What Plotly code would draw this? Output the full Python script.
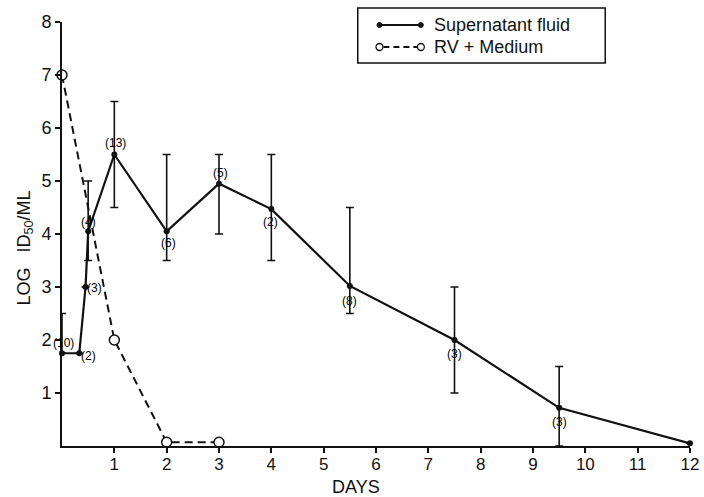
import plotly.graph_objects as go

# ---------------- data ----------------
days_sup = [0, 0.33, 0.45, 0.5, 1, 2, 3, 4, 5.5, 7.5, 9.5, 12]
log_sup = [1.75, 1.75, 3.0, 4.05, 5.5, 4.05, 4.95, 4.47, 3.02, 2.0, 0.72, 0.05]
err_up = [0.75, None, None, 0.95, 1.0, 1.45, 0.55, 1.03, 1.48, 1.0, 0.78, None]
err_down = [0.0, None, None, 0.55, 1.0, 0.55, 0.95, 0.97, 0.52, 1.0, 0.72, None]
n_labels = ["(10)", "(2)", "(3)", "(4)", "(13)", "(6)", "(5)", "(2)", "(8)", "(3)", "(3)", ""]

days_rv = [0, 1, 2, 3]
log_rv = [7, 2, 0.07, 0.07]

x_ticks = list(range(1, 13))
y_ticks = list(range(1, 9))

series_names = ["Supernatant fluid", "RV + Medium"]

# ---------------- style ----------------
FONT = "Liberation Sans"
INK = "#111111"
# pixel offsets (dx, dy) of the n-labels relative to their points
label_offsets = [(1, 10), (9, -3), (9, -1), (0, 9), (1, 12), (2, -12),
                 (1, 11), (-1, -13), (0, -15), (0, -14), (0, -14), (0, 0)]

L, R, T, B = 62, 5, 22, 51
W, H = 704, 497
PW, PH = W - L - R, H - T - B


def px(xp):
    return (xp - L) / PW


def py(yp):
    return (H - B - yp) / PH


fig = go.Figure()

fig.add_trace(go.Scatter(
    x=days_rv, y=log_rv, mode="lines+markers", name=series_names[1],
    line=dict(color=INK, width=2, dash="8px,5px"),
    marker=dict(symbol="circle", size=10, color="white",
                line=dict(color=INK, width=1.5)),
    cliponaxis=False, showlegend=False,
))

fig.add_trace(go.Scatter(
    x=days_sup, y=log_sup, mode="lines+markers", name=series_names[0],
    line=dict(color=INK, width=2.2),
    marker=dict(symbol="circle", size=6, color=INK),
    error_y=dict(type="data", symmetric=False, array=err_up, arrayminus=err_down,
                 color=INK, thickness=1.6, width=4),
    cliponaxis=False, showlegend=False,
))

annotations = []
for xv, yv, t, (dx, dy) in zip(days_sup, log_sup, n_labels, label_offsets):
    if t:
        annotations.append(dict(x=xv, y=yv, text=t, showarrow=False,
                                xanchor="center", yanchor="middle",
                                xshift=dx, yshift=dy,
                                font=dict(family=FONT, size=12, color="black")))

# axis titles
annotations.append(dict(x=px(25), y=py(248), xref="paper", yref="paper",
                        xanchor="center", yanchor="middle",
                        text="LOG   ID<sub>50</sub>/ML", textangle=-90, showarrow=False,
                        font=dict(family=FONT, size=18, color=INK)))
annotations.append(dict(x=px(360), y=py(487), xref="paper", yref="paper",
                        xanchor="center", yanchor="middle",
                        text="DAYS", showarrow=False,
                        font=dict(family=FONT, size=18, color=INK)))

# manual legend
shapes = [dict(type="rect", xref="paper", yref="paper",
               x0=px(362), x1=px(613), y0=py(63), y1=py(8),
               line=dict(color=INK, width=1.5), fillcolor="white")]
rows = [25, 47]
shapes.append(dict(type="line", xref="paper", yref="paper",
                   x0=px(384), x1=px(426), y0=py(rows[0]), y1=py(rows[0]),
                   line=dict(color=INK, width=2)))
for cx in (384, 426):
    shapes.append(dict(type="circle", xref="paper", yref="paper",
                       x0=px(cx - 2.5), x1=px(cx + 2.5), y0=py(rows[0] + 2.5), y1=py(rows[0] - 2.5),
                       line=dict(color=INK, width=1), fillcolor=INK))
shapes.append(dict(type="line", xref="paper", yref="paper",
                   x0=px(388), x1=px(422), y0=py(rows[1]), y1=py(rows[1]),
                   line=dict(color=INK, width=1.8, dash="6px,4px")))
for cx in (384, 426):
    shapes.append(dict(type="circle", xref="paper", yref="paper",
                       x0=px(cx - 3.5), x1=px(cx + 3.5), y0=py(rows[1] + 3.5), y1=py(rows[1] - 3.5),
                       line=dict(color=INK, width=1.3), fillcolor="white"))
for name, ry in zip(series_names, rows):
    annotations.append(dict(x=px(437), y=py(ry), xref="paper", yref="paper",
                            text=name, showarrow=False, xanchor="left", yanchor="middle",
                            font=dict(family=FONT, size=18, color=INK)))

fig.update_layout(
    width=W, height=H,
    margin=dict(l=L, r=R, t=T, b=B, pad=0),
    paper_bgcolor="white", plot_bgcolor="white",
    showlegend=False,
    annotations=annotations, shapes=shapes,
    font=dict(family=FONT, size=16, color=INK),
)
fig.update_xaxes(range=[0, 12], tickvals=x_ticks, ticktext=[str(v) for v in x_ticks],
                 showgrid=False, zeroline=False, showline=True, linecolor=INK, linewidth=2,
                 ticks="outside", ticklen=5, tickwidth=2, tickcolor=INK,
                 ticklabeloverflow="allow", ticklabelstandoff=-3,
                 tickfont=dict(family=FONT, size=17, color=INK))
fig.update_yaxes(range=[0, 8], tickvals=y_ticks, ticktext=[str(v) for v in y_ticks],
                 showgrid=False, zeroline=False, showline=True, linecolor=INK, linewidth=2,
                 ticks="outside", ticklen=5, tickwidth=2, tickcolor=INK,
                 tickfont=dict(family=FONT, size=18, color=INK))

fig.write_html("out.html", config={"displayModeBar": False},
               post_script="document.body.style.margin='0';document.body.style.overflow='hidden';")
